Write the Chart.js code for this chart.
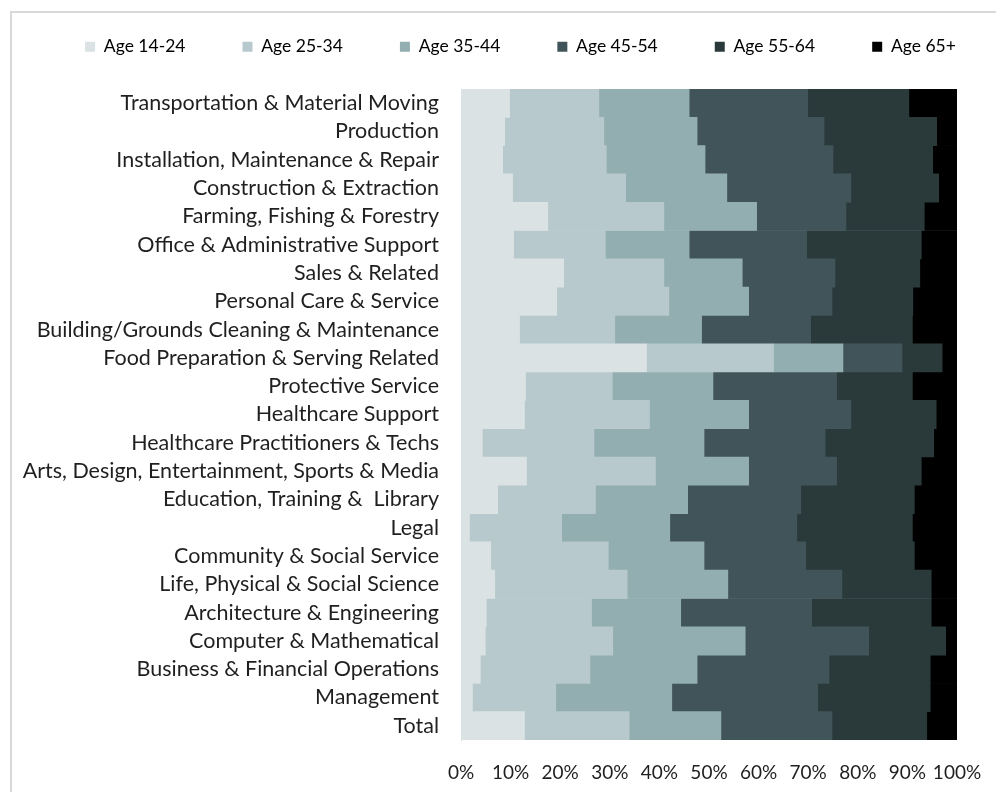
<!DOCTYPE html>
<html>
<head>
<meta charset="utf-8">
<script src="https://cdn.jsdelivr.net/npm/chart.js@4"></script>
<style>
  html, body { margin: 0; padding: 0; background: #fff; overflow: hidden; }
  #wrap { position: relative; width: 996px; height: 792px; }
  #frame { position: absolute; left: 10px; top: 11px; width: 1000px; height: 800px; border: 2px solid #d9d9d9; box-sizing: border-box; }
  canvas { position: absolute; left: 0; top: 0; }
</style>
</head>
<body>
<div id="wrap">
  <div id="frame"></div>
  <canvas id="myChart" width="996" height="792"></canvas>
</div>
<script>
// occupations, top to bottom
const categories = [
  'Transportation & Material Moving', 'Production', 'Installation, Maintenance & Repair',
  'Construction & Extraction', 'Farming, Fishing & Forestry', 'Office & Administrative Support',
  'Sales & Related', 'Personal Care & Service', 'Building/Grounds Cleaning & Maintenance',
  'Food Preparation & Serving Related', 'Protective Service', 'Healthcare Support',
  'Healthcare Practitioners & Techs', 'Arts, Design, Entertainment, Sports & Media',
  'Education, Training &  Library', 'Legal', 'Community & Social Service',
  'Life, Physical & Social Science', 'Architecture & Engineering', 'Computer & Mathematical',
  'Business & Financial Operations', 'Management', 'Total'
];

const seriesNames = ['Age 14-24', 'Age 25-34', 'Age 35-44', 'Age 45-54', 'Age 55-64', 'Age 65+'];

// share of workers (%) per age group
const age1424 = [9.8, 8.8, 8.4, 10.4, 17.5, 10.6, 20.7, 19.3, 11.8, 37.4, 13.0, 12.8, 4.3, 13.2, 7.4, 1.7, 6.0, 6.8, 5.1, 4.9, 3.9, 2.3, 12.8];
const age2534 = [18.0, 20.0, 20.9, 22.8, 23.4, 18.5, 20.2, 22.6, 19.2, 25.6, 17.5, 25.2, 22.5, 26.0, 19.7, 18.6, 23.7, 26.7, 21.2, 25.7, 22.1, 16.8, 21.1];
const age3544 = [18.2, 18.8, 19.9, 20.4, 18.7, 16.9, 15.8, 16.1, 17.5, 14.0, 20.3, 20.0, 22.2, 18.8, 18.6, 21.8, 19.3, 20.3, 18.0, 26.7, 21.6, 23.4, 18.5];
const age4554 = [23.9, 25.6, 25.8, 25.0, 18.0, 23.7, 18.7, 16.8, 22.0, 11.9, 24.9, 20.6, 24.4, 17.7, 22.8, 25.6, 20.5, 23.0, 26.4, 24.9, 26.6, 29.4, 22.4];
const age5564 = [20.4, 22.7, 20.1, 17.7, 15.8, 23.1, 17.1, 16.3, 20.5, 8.1, 15.3, 17.2, 21.9, 17.1, 22.9, 23.3, 21.9, 18.0, 24.1, 15.5, 20.4, 22.7, 19.1];
const age65 = [9.7, 4.1, 4.9, 3.7, 6.6, 7.2, 7.5, 8.9, 9.0, 3.0, 9.0, 4.2, 4.7, 7.2, 8.6, 9.0, 8.6, 5.2, 5.2, 2.3, 5.4, 5.4, 6.1];

const xTicks = [0, 10, 20, 30, 40, 50, 60, 70, 80, 90, 100];

const colors = ['#dae2e3', '#b7c9cc', '#93aeb1', '#405459', '#2a3a3b', '#000000'];
const allSeries = [age1424, age2534, age3544, age4554, age5564, age65];

const FONT = 'Lato, Carlito, sans-serif';
const TEXT = '#1f1f1f';
const GAP = '            \u2009\u200a'; // spacing between legend entries

// legend box height so the plot starts under it
const legendGap = {
  id: 'legendGap',
  beforeInit(chart) {
    const fit = chart.legend.fit;
    chart.legend.fit = function () {
      fit.bind(chart.legend)();
      this.height = 51;
    };
  }
};

const ctx = document.getElementById('myChart').getContext('2d');
let myChart = new Chart(ctx, {
  type: 'bar',
  data: {
    labels: categories,
    datasets: seriesNames.map((name, i) => ({
      label: name,
      data: allSeries[i],
      backgroundColor: colors[i],
      borderWidth: 0,
      barPercentage: 1,
      categoryPercentage: 1
    }))
  },
  options: {
    indexAxis: 'y',
    responsive: false,
    animation: false,
    layout: { padding: { top: 38, right: 39, bottom: 0, left: 0 } },
    plugins: {
      tooltip: { enabled: false },
      legend: {
        position: 'top',
        align: 'end',
        labels: {
          color: TEXT,
          font: { family: FONT, size: 17.5 },
          boxWidth: 10,
          boxHeight: 10,
          padding: 0,
          generateLabels(chart) {
            const n = chart.data.datasets.length;
            return chart.data.datasets.map((ds, i) => ({
              text: i < n - 1 ? ds.label + GAP : ds.label + '\u200a',
              fillStyle: ds.backgroundColor,
              strokeStyle: ds.backgroundColor,
              lineWidth: 0,
              datasetIndex: i
            }));
          }
        }
      }
    },
    scales: {
      x: {
        stacked: true,
        min: 0,
        max: 100,
        afterBuildTicks(scale) {
          scale.ticks = xTicks.map(v => ({ value: v }));
        },
        afterFit(scale) {
          scale.height = 52;
          scale.paddingLeft = 0;
          scale.paddingRight = 0;
        },
        ticks: {
          color: TEXT,
          font: { family: FONT, size: 19 },
          padding: 21,
          maxRotation: 0,
          autoSkip: false,
          callback: v => v + '%'
        },
        grid: { display: false, drawTicks: false },
        border: { display: false }
      },
      y: {
        stacked: true,
        afterFit(scale) { scale.width = 461; },
        ticks: {
          color: TEXT,
          font: { family: FONT, size: 21.5 },
          padding: 22,
          autoSkip: false
        },
        grid: { display: false, drawTicks: false },
        border: { display: true, color: '#d9d9d9', width: 1 }
      }
    }
  },
  plugins: [legendGap]
});
</script>
</body>
</html>
